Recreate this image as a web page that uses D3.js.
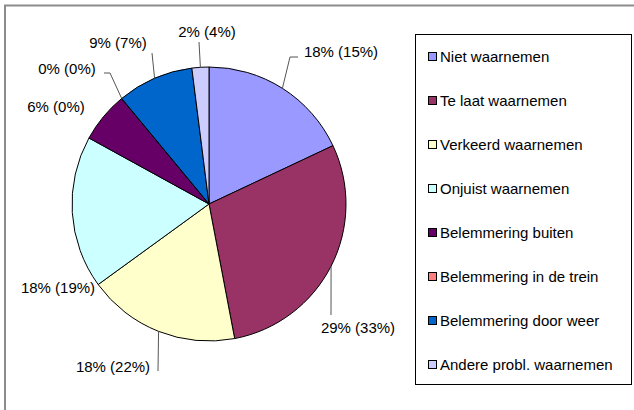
<!DOCTYPE html>
<html>
<head>
<meta charset="utf-8">
<script src="https://cdn.jsdelivr.net/npm/d3@7"></script>
<style>
  body { margin: 0; background: #fff; }
  svg { display: block; font-family: Arial, "Liberation Sans", sans-serif; }
</style>
</head>
<body>
<svg id="chart" width="634" height="410"></svg>
<script>
  // categories and values
  const categories = [
    "Niet waarnemen",
    "Te laat waarnemen",
    "Verkeerd waarnemen",
    "Onjuist waarnemen",
    "Belemmering buiten",
    "Belemmering in de trein",
    "Belemmering door weer",
    "Andere probl. waarnemen"
  ];
  const shares = [18, 29, 18, 18, 6, 0, 9, 2];       // main percentage
  const compareShares = [15, 33, 22, 19, 0, 0, 7, 4]; // percentage in brackets
  const colors = ["#9999ff", "#993366", "#ffffcc", "#ccffff", "#660066", "#ff8080", "#0066cc", "#ccccff"];

  // label placement (relative to pie centre), leader end points
  const labelLayout = [
    { text: [132, -152], leader: [[81, -147], [89, -147]] },
    { text: [149, 124], leader: [[122, 111]] },
    { text: [-96, 163], leader: [[-51, 167]] },
    { text: [-151, 84], leader: [] },
    { text: [-153, -97], leader: [] },
    { text: [-142, -135], leader: [[-99, -131], [-105, -131]] },
    { text: [-91, -161], leader: [[-57, -151]] },
    { text: [-2, -172], leader: [[-10, -162]] }
  ];

  const svg = d3.select("#chart");
  const cx = 209, cy = 204, radius = 137;

  // outer frame (only top and left edge are visible)
  svg.append("path")
      .attr("d", "M5,410V5.5H634")
      .attr("fill", "none")
      .attr("stroke", "#8c8c8c")
      .attr("stroke-width", 2);

  const pie = d3.pie().sort(null).value(d => d);
  const arcs = pie(shares);
  const arc = d3.arc().innerRadius(0).outerRadius(radius);

  const g = svg.append("g").attr("transform", `translate(${cx},${cy})`);

  // SLICES
  g.selectAll("path.slice").data(arcs).enter().append("path")
      .attr("class", "slice")
      .attr("d", arc)
      .attr("fill", (d, i) => colors[i])
      .attr("stroke", "#000")
      .attr("stroke-width", 1);

  // LEADER LINES
  const line = d3.line();
  g.selectAll("path.leader").data(arcs).enter().append("path")
      .attr("class", "leader")
      .attr("d", (d, i) => {
        if (labelLayout[i].leader.length === 0) return null;
        const a = (d.startAngle + d.endAngle) / 2;
        const start = [radius * Math.sin(a), -radius * Math.cos(a)];
        return line([start].concat(labelLayout[i].leader));
      })
      .attr("fill", "none")
      .attr("stroke", "#555")
      .attr("stroke-width", 1);

  // LABELS
  g.selectAll("text.label").data(arcs).enter().append("text")
      .attr("class", "label")
      .attr("x", (d, i) => labelLayout[i].text[0])
      .attr("y", (d, i) => labelLayout[i].text[1])
      .attr("dy", "0.35em")
      .attr("text-anchor", "middle")
      .attr("font-size", 15)
      .attr("fill", "#000")
      .text((d, i) => `${shares[i]}% (${compareShares[i]}%)`);

  // LEGEND
  const legend = svg.append("g");
  legend.append("rect")
      .attr("x", 415.5).attr("y", 34.5)
      .attr("width", 216).attr("height", 350)
      .attr("fill", "#fff")
      .attr("stroke", "#000");

  const rowY = d3.scalePoint().domain(categories).range([57, 365]);

  const rows = legend.selectAll("g.row").data(categories).enter().append("g")
      .attr("class", "row")
      .attr("transform", d => `translate(0,${rowY(d)})`);
  rows.append("rect")
      .attr("x", 428.5).attr("y", -4.5)
      .attr("width", 8).attr("height", 8)
      .attr("fill", (d, i) => colors[i])
      .attr("stroke", "#000");
  rows.append("text")
      .attr("x", 440)
      .attr("dy", "0.35em")
      .attr("font-size", 15)
      .text(d => d);
</script>
</body>
</html>
